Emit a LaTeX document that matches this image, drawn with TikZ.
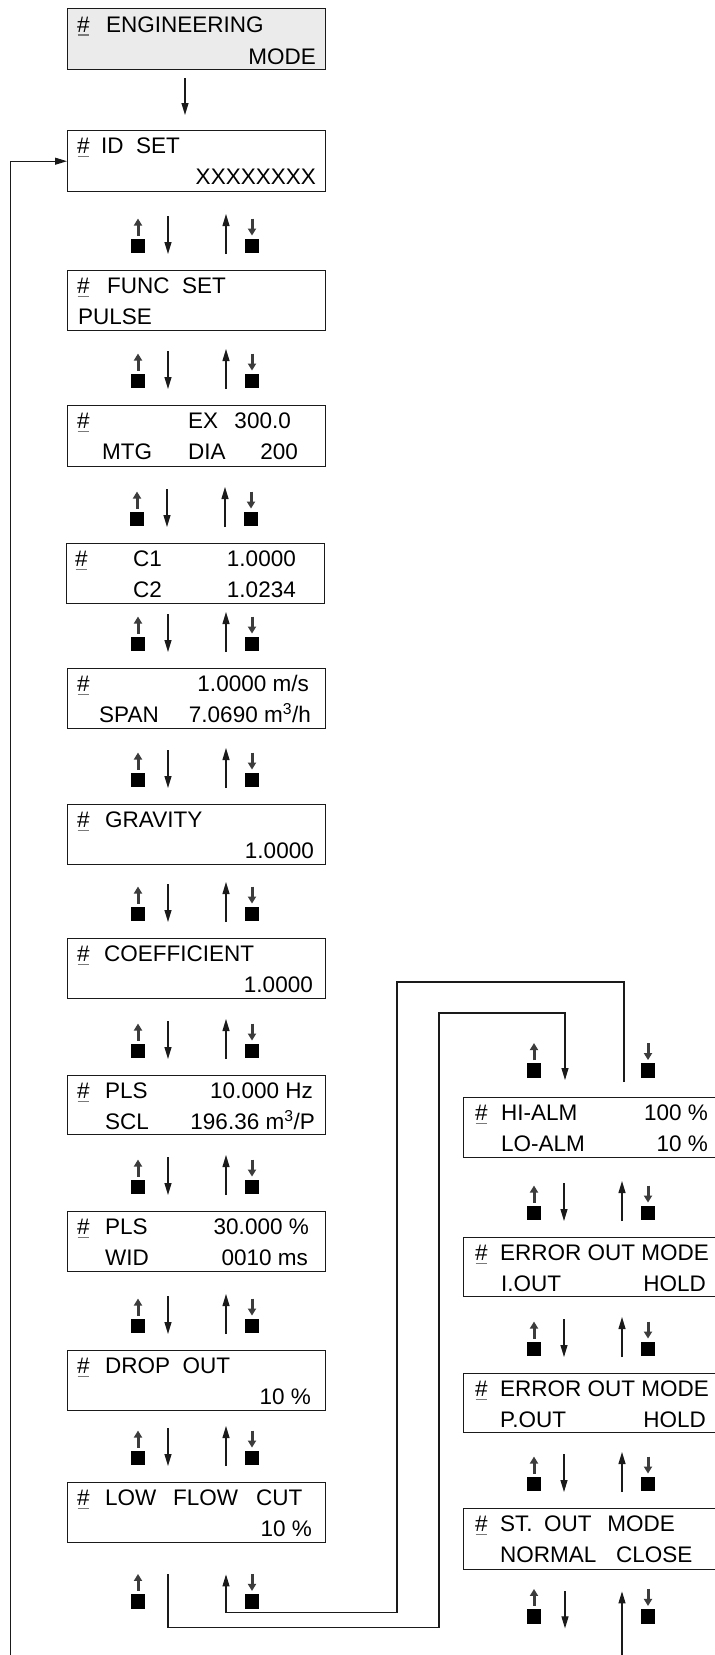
\documentclass[tikz,border=0pt]{standalone}
\usepackage{fontspec}
\setmainfont{Liberation Sans}
\usetikzlibrary{arrows.meta,calc}
\definecolor{boxline}{HTML}{1A1A1A}
\definecolor{keygray}{HTML}{3C3C3C}
\definecolor{ulgray}{HTML}{7A7A7A}
\definecolor{engfill}{HTML}{EBEBEB}
\newcommand\uh{\rlap{\kern0.5pt\textcolor{ulgray}{\rule[-3.6pt]{11.5pt}{1.4pt}}}\#}
\newcommand\keyup[2]{\node[keysq] (#1) at #2 {};
  \draw[small] ($(#1.north)+(0,-3)$) -- ($(#1.north)+(0,-20)$);}
\newcommand\keydn[2]{\node[keysq] (#1) at #2 {};
  \draw[small] ($(#1.north)+(0,-20)$) -- ($(#1.north)+(0,-3)$);}
% arrow group above a box #2, key names prefixed #1
\newcommand\keygroup[2]{%
  \keyup{#1l}{($(#2.north west)+(71,-24)$)}
  \keydn{#1r}{($(#2.north west)+(185,-24)$)}
  \draw[big] ($(#2.north west)+(101,-54)$) -- ($(#2.north west)+(101,-16)$);
  \draw[big] ($(#2.north west)+(159,-16)$) -- ($(#2.north west)+(159,-56)$);}
\begin{document}
\begin{tikzpicture}[x=1pt,y=-1pt,font=\fontsize{22.5}{27}\selectfont,
  lcd/.style={draw=boxline,line width=1.4pt,inner sep=0pt,anchor=north west,minimum width=258pt},
  rlcd/.style={lcd,minimum width=270pt},
  txt/.style={inner sep=0pt,anchor=base west},
  txr/.style={inner sep=0pt,anchor=base east},
  big/.style={draw=boxline,line width=1.1pt,-{Triangle[width=7pt,length=12pt]}},
  small/.style={draw=keygray,line width=3pt,-{Triangle[width=8pt,length=7pt]}},
  keysq/.style={fill=black,minimum size=14.5pt,inner sep=0pt}]
\clip (0,0) rectangle (715,1655);
\fill[white] (0,0) rectangle (715,1655);
% boxes
\node[lcd,fill=engfill,minimum height=61pt] (eng) at (67,8) {};
\node[lcd,minimum height=61pt] (id) at (67,130) {};
\node[lcd,minimum height=60pt] (func) at (67,270) {};
\node[lcd,minimum height=61pt] (ex) at (67,405) {};
\node[lcd,minimum height=60pt] (c1) at (66,543) {};
\node[lcd,minimum height=60pt] (ms) at (67,668) {};
\node[lcd,minimum height=60pt] (grav) at (67,804) {};
\node[lcd,minimum height=60pt] (coef) at (67,938) {};
\node[lcd,minimum height=59pt] (hz) at (67,1075) {};
\node[lcd,minimum height=60pt] (pw) at (67,1211) {};
\node[lcd,minimum height=60pt] (drop) at (67,1350) {};
\node[lcd,minimum height=60pt] (low) at (67,1482) {};
\node[rlcd,minimum height=60pt] (hi) at (463,1097) {};
\node[rlcd,minimum height=59pt] (erri) at (463,1237) {};
\node[rlcd,minimum height=59pt] (errp) at (463,1373) {};
\node[rlcd,minimum height=61pt] (st) at (463,1508) {};
% texts
\node[txt] (t1) at (77,32) {\uh};
\node[txt] (t2) at (106,32) {ENGINEERING};
\node[txr] (t3) at (316,64) {MODE};
\node[txt] (t4) at (77,153.5) {\uh};
\node[txt] (t5) at (101,153.5) {ID\ \ SET};
\node[txr] (t6) at (316,184.5) {XXXXXXXX};
\node[txt] (t7) at (77,293.5) {\uh};
\node[txt] (t8) at (107,293.5) {FUNC\ \ SET};
\node[txt] (t9) at (78,324.5) {PULSE};
\node[txt] (t10) at (77,428.5) {\uh};
\node[txt] (t11) at (188,428.5) {EX};
\node[txr] (t12) at (291,428.5) {300.0};
\node[txt] (t13) at (102,459.5) {MTG};
\node[txt] (t14) at (188,459.5) {DIA};
\node[txr] (t15) at (298,459.5) {200};
\node[txt] (t16) at (75,566.5) {\uh};
\node[txt] (t17) at (133,566.5) {C1};
\node[txr] (t18) at (296,566.5) {1.0000};
\node[txt] (t19) at (133,597.5) {C2};
\node[txr] (t20) at (296,597.5) {1.0234};
\node[txt] (t21) at (77,691.5) {\uh};
\node[txr] (t22) at (309,691.5) {1.0000 m/s};
\node[txt] (t23) at (99,722.5) {SPAN};
\node[txr] (t24) at (311,722.5) {7.0690 m\textsuperscript{3}/h};
\node[txt] (t25) at (77,827.5) {\uh};
\node[txt] (t26) at (105,827.5) {GRAVITY};
\node[txr] (t27) at (314,858.5) {1.0000};
\node[txt] (t28) at (77,961.5) {\uh};
\node[txt] (t29) at (104,961.5) {COEFFICIENT};
\node[txr] (t30) at (313,992.5) {1.0000};
\node[txt] (t31) at (77,1098.5) {\uh};
\node[txt] (t32) at (105,1098.5) {PLS};
\node[txr] (t33) at (313,1098.5) {10.000 Hz};
\node[txt] (t34) at (105,1129.5) {SCL};
\node[txr] (t35) at (315,1129.5) {196.36 m\textsuperscript{3}/P};
\node[txt] (t36) at (77,1234.5) {\uh};
\node[txt] (t37) at (105,1234.5) {PLS};
\node[txr] (t38) at (309,1234.5) {30.000 \%};
\node[txt] (t39) at (105,1265.5) {WID};
\node[txr] (t40) at (308,1265.5) {0010 ms};
\node[txt] (t41) at (77,1373.5) {\uh};
\node[txt] (t42) at (105,1373.5) {DROP\ \ OUT};
\node[txr] (t43) at (311,1404.5) {10 \%};
\node[txt] (t44) at (77,1505.5) {\uh};
\node[txt] (t45) at (105,1505.5) {LOW};
\node[txt] (t46) at (173,1505.5) {FLOW};
\node[txt] (t47) at (256,1505.5) {CUT};
\node[txr] (t48) at (312,1536.5) {10 \%};
\node[txt] (t49) at (475,1120.5) {\uh};
\node[txt] (t50) at (501,1120.5) {HI-ALM};
\node[txr] (t51) at (708,1120.5) {100 \%};
\node[txt] (t52) at (501,1151.5) {LO-ALM};
\node[txr] (t53) at (708,1151.5) {10 \%};
\node[txt] (t54) at (475,1260.5) {\uh};
\node[txt] (t55) at (500,1260.5) {ERROR OUT MODE};
\node[txt] (t56) at (501,1291.5) {I.OUT};
\node[txr] (t57) at (706,1291.5) {HOLD};
\node[txt] (t58) at (475,1396.5) {\uh};
\node[txt] (t59) at (500,1396.5) {ERROR OUT MODE};
\node[txt] (t60) at (500,1427.5) {P.OUT};
\node[txr] (t61) at (706,1427.5) {HOLD};
\node[txt] (t62) at (475,1531.5) {\uh};
\node[txt] (t63) at (500,1531.5) {ST.};
\node[txt] (t64) at (544,1531.5) {OUT};
\node[txr] (t65) at (675,1531.5) {MODE};
\node[txt] (t66) at (500,1562.5) {NORMAL};
\node[txt] (t67) at (616,1562.5) {CLOSE};
% connectors
\draw[big] ($(eng.south west)+(118,8)$) -- ($(id.north west)+(118,-15)$);
\coordinate (ret) at (10.5,1655);
\draw[big] (ret) |- (id.west);
\keygroup{ga}{func}
\keygroup{gb}{ex}
\keygroup{gc}{c1}
\keygroup{gd}{ms}
\keygroup{ge}{grav}
\keygroup{gf}{coef}
\keygroup{gg}{hz}
\keygroup{gh}{pw}
\keygroup{gi}{drop}
\keygroup{gj}{low}
\keygroup{gl}{erri}
\keygroup{gm}{errp}
\keygroup{gn}{st}
% below LOW FLOW CUT and loop to HI-ALM
\keyup{lowl}{($(low.south west)+(71,58)$)}
\keydn{lowr}{($(low.south west)+(185,58)$)}
\keyup{hil}{($(hi.north west)+(71,-26.5)$)}
\keydn{hir}{($(hi.north west)+(185,-26.5)$)}
\coordinate (lowd) at ($(low.south west)+(101,31)$);
\coordinate (hiu) at ($(hi.north west)+(161,-15)$);
\draw[big] (lowd) -- ++(0,53) -| (439,1013) -| ($(hi.north west)+(102,-17)$);
\draw[big] (hiu) |- (397,982) |- ($(low.south west)+(159,69)$) -- ($(low.south west)+(159,31)$);
% below ST. OUT MODE
\keyup{stl}{($(st.south west)+(71,46)$)}
\keydn{str}{($(st.south west)+(185,46)$)}
\draw[big] ($(st.south west)+(102,21)$) -- ($(st.south west)+(102,58)$);
\coordinate (stin) at ($(st.south west)+(159,86)$);
\draw[big] (stin) -- ($(st.south west)+(159,21)$);
\end{tikzpicture}
\end{document}
